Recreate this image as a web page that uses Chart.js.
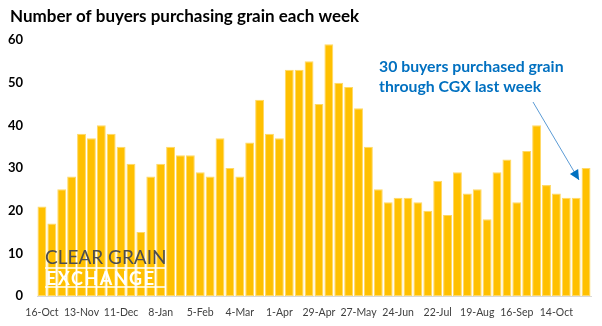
<!DOCTYPE html>
<html>
<head>
<meta charset="utf-8">
<script src="https://cdn.jsdelivr.net/npm/chart.js@4"></script>
<style>
  html, body { margin: 0; padding: 0; background: #fff; }
  #wrap { width: 602px; height: 326px; }
</style>
</head>
<body>
<div id="wrap"><canvas id="chart"></canvas></div>
<script>
// weekly buyer counts, first week 16-Oct
const buyers = [21, 17, 25, 28, 38, 37, 40, 38, 35, 31, 15, 28, 31, 35, 33, 33,
  29, 28, 37, 30, 28, 36, 46, 38, 37, 53, 53, 55, 45, 59, 50, 49, 44, 35, 25, 22,
  23, 23, 22, 20, 27, 19, 29, 24, 25, 18, 29, 32, 22, 34, 40, 26, 24, 23, 23, 30];
// labels shown under every 4th week
const tickLabels = ["16-Oct", "13-Nov", "11-Dec", "8-Jan", "5-Feb", "4-Mar", "1-Apr",
  "29-Apr", "27-May", "24-Jun", "22-Jul", "19-Aug", "16-Sep", "14-Oct"];
const weeks = buyers.map((v, i) => "w" + (i + 1));
const yTicks = [0, 10, 20, 30, 40, 50, 60];
const titleText = "Number of buyers purchasing grain each week";
const noteLines = ["30 buyers purchased grain", "through CGX last week"];

const FONT = "Lato, 'Open Sans', sans-serif";

const extras = {
  id: "extras",
  afterDatasetsDraw(chart) {
    const { ctx, scales } = chart;
    const x = scales.x, y = scales.y;
    ctx.save();
    ctx.textBaseline = "alphabetic";
    ctx.textAlign = "left";

    // title
    ctx.fillStyle = "#000";
    ctx.font = "bold 17px " + FONT;
    ctx.fillText(titleText, 10, 22);

    // watermark
    ctx.fillStyle = "#4d4d4f";
    ctx.font = "400 19px " + FONT;
    ctx.fillText("CLEAR GRAIN", 45, 264);
    ctx.strokeStyle = "#fff";
    ctx.lineWidth = 1.5;
    ctx.beginPath();
    ctx.moveTo(45, 268); ctx.lineTo(165, 268);
    ctx.moveTo(45, 287); ctx.lineTo(165, 287);
    ctx.stroke();
    ctx.fillStyle = "#fff";
    ctx.font = "bold 18px " + FONT;
    ctx.letterSpacing = "1.5px";
    ctx.fillText("EXCHANGE", 46, 285);
    ctx.letterSpacing = "0px";

    // note text
    ctx.fillStyle = "#0070c0";
    ctx.font = "bold 15.8px " + FONT;
    ctx.fillText(noteLines[0], 379, 72);
    ctx.fillText(noteLines[1], 379, 92);

    // arrow pointing at last bar
    const last = buyers.length - 1;
    const tx = x.getPixelForValue(last) - 7;
    const ty = y.getPixelForValue(buyers[last]) + 12;
    const sx = 533, sy = 102;
    ctx.strokeStyle = "#5b9bd5";
    ctx.lineWidth = 1;
    ctx.beginPath();
    ctx.moveTo(sx, sy);
    ctx.lineTo(tx, ty);
    ctx.stroke();
    const ang = Math.atan2(ty - sy, tx - sx);
    const len = 11, half = 0.45;
    ctx.fillStyle = "#0070c0";
    ctx.beginPath();
    ctx.moveTo(tx, ty);
    ctx.lineTo(tx - len * Math.cos(ang - half), ty - len * Math.sin(ang - half));
    ctx.lineTo(tx - len * Math.cos(ang + half), ty - len * Math.sin(ang + half));
    ctx.closePath();
    ctx.fill();
    ctx.restore();
  }
};

new Chart(document.getElementById("chart"), {
  type: "bar",
  data: {
    labels: weeks,
    datasets: [{
      label: "Buyers",
      data: buyers,
      backgroundColor: "#ffc000",
      borderColor: "#ffd966",
      borderWidth: 1,
      borderSkipped: false,
      barPercentage: 0.9,
      categoryPercentage: 1,
    }],
  },
  options: {
    responsive: true,
    maintainAspectRatio: false,
    animation: false,
    layout: { padding: { left: 0, right: 11, top: 40, bottom: 0 } },
    plugins: {
      legend: { display: false },
      tooltip: { enabled: false },
      title: { display: false },
    },
    scales: {
      x: {
        afterFit: (axis) => { axis.height = 30; },
        grid: { display: false, drawTicks: false },
        border: { display: true, color: "#d9d9d9" },
        ticks: {
          autoSkip: false,
          maxRotation: 0,
          padding: 10,
          color: "#404040",
          font: { family: FONT, size: 10.5 },
          callback: (v, i) => (i % 4 === 0 ? tickLabels[i / 4] : ""),
        },
      },
      y: {
        min: 0,
        max: 60,
        afterBuildTicks: (axis) => { axis.ticks = yTicks.map((v) => ({ value: v })); },
        afterFit: (axis) => { axis.width = 37; },
        grid: { display: false, drawTicks: false },
        border: { display: false },
        ticks: {
          padding: 14,
          color: "#000",
          font: { family: FONT, size: 13, weight: "bold" },
        },
      },
    },
  },
  plugins: [extras],
});
</script>
</body>
</html>
